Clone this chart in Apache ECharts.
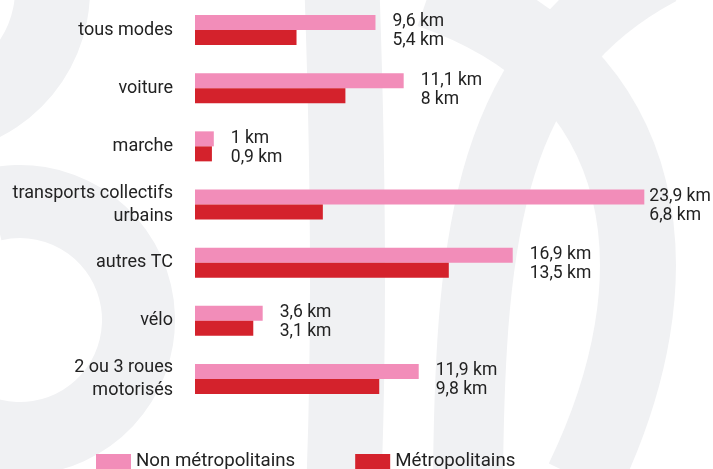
<!DOCTYPE html>
<html>
<head>
<meta charset="utf-8">
<script src="https://cdn.jsdelivr.net/npm/echarts@6/dist/echarts.min.js"></script>
<style>
  html, body { margin: 0; padding: 0; background: #fff; }
  #chart { width: 713px; height: 469px; }
</style>
</head>
<body>
<div id="chart"></div>
<script>
var categories = [
  "tous modes",
  "voiture",
  "marche",
  "transports collectifs\nurbains",
  "autres TC",
  "vélo",
  "2 ou 3 roues\nmotorisés"
];
var nonMetro = [9.6, 11.1, 1, 23.9, 16.9, 3.6, 11.9]; // Non métropolitains
var metro = [5.4, 8, 0.9, 6.8, 13.5, 3.1, 9.8];       // Métropolitains
var seriesNames = ["Non métropolitains", "Métropolitains"];

var PINK = "#f28db9";
var RED = "#d4222c";
var BG = "#f0f1f3";
var TXT = "#222222";
var FONT = "Roboto, sans-serif";

function km(v) {
  return String(v).replace(".", ",") + " km";
}

var chart = echarts.init(document.getElementById("chart"));

// la barre la plus longue touche presque le bord : etiquette plus proche
var pinkData = nonMetro.map(function (v, i) {
  if (v > 20) {
    return { value: v, label: { distance: 5 } };
  }
  return v;
});

function band(x1, y1, cx1, cy1, cx2, cy2, x2, y2, w) {
  return {
    type: "bezierCurve", silent: true, z: -10,
    shape: { x1: x1, y1: y1, cpx1: cx1, cpy1: cy1, cpx2: cx2, cpy2: cy2, x2: x2, y2: y2 },
    style: { fill: null, stroke: BG, lineWidth: w }
  };
}

chart.setOption({
  backgroundColor: "#fff",
  animation: false,
  // motifs gris en fond
  graphic: {
    elements: [
      {
        type: "sector", silent: true, z: -10,
        shape: { cx: -75, cy: -10, r0: 90, r: 165, startAngle: -Math.PI / 2, endAngle: Math.PI, clockwise: true },
        style: { fill: BG }
      },
      {
        type: "sector", silent: true, z: -10,
        shape: { cx: 20, cy: 320, r0: 82, r: 155, startAngle: -1.8, endAngle: 2.2, clockwise: true },
        style: { fill: BG }
      },
      band(342, -10, 348, 160, 350, 320, 344, 480, 75),
      band(583, 480, 680, 280, 660, 70, 430, -10, 76),
      band(468, 480, 470, 230, 490, 60, 660, -30, 70)
    ]
  },
  legend: {
    left: 96,
    top: 452,
    padding: 0,
    itemWidth: 35,
    itemHeight: 15,
    itemGap: 60,
    icon: "rect",
    data: seriesNames,
    textStyle: { color: TXT, fontSize: 18.7, fontFamily: FONT }
  },
  grid: {
    left: 195,
    right: 48,
    top: 1,
    bottom: 61
  },
  xAxis: {
    type: "value",
    min: 0,
    max: 25,
    show: false
  },
  yAxis: {
    type: "category",
    inverse: true,
    data: categories,
    axisLine: { show: false },
    axisTick: { show: false },
    splitLine: { show: false },
    axisLabel: {
      margin: 22,
      color: TXT,
      fontSize: 18,
      fontFamily: FONT,
      lineHeight: 23,
      padding: [0, 0, 5, 0]
    }
  },
  series: [
    {
      name: seriesNames[0],
      type: "bar",
      barWidth: 15,
      barGap: "0%",
      itemStyle: { color: PINK },
      label: {
        show: true,
        position: "right",
        distance: 17,
        offset: [0, 9],
        color: TXT,
        fontSize: 17.5,
        fontFamily: FONT,
        lineHeight: 19,
        formatter: function (p) {
          return km(nonMetro[p.dataIndex]) + "\n" + km(metro[p.dataIndex]);
        }
      },
      data: pinkData
    },
    {
      name: seriesNames[1],
      type: "bar",
      barWidth: 15,
      barGap: "0%",
      itemStyle: { color: RED },
      data: metro
    }
  ]
});
</script>
</body>
</html>
